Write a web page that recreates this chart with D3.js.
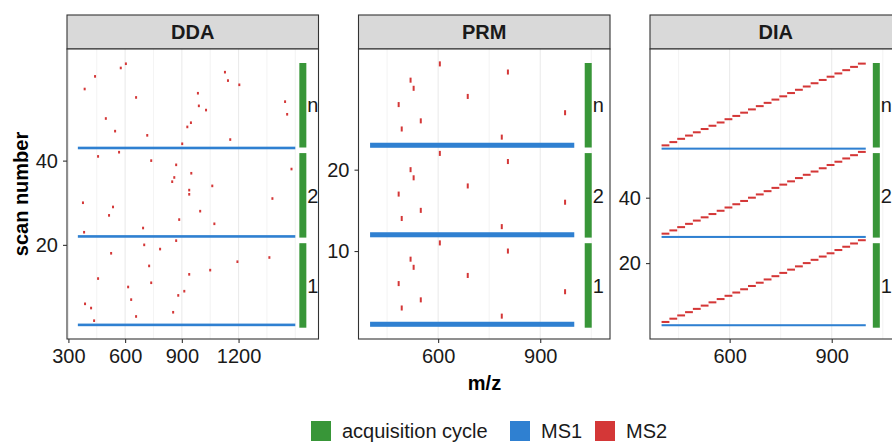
<!DOCTYPE html>
<html>
<head>
<meta charset="utf-8">
<script src="https://cdn.jsdelivr.net/npm/d3@7"></script>
<style>
  body { margin: 0; background: #fff; }
  svg { display: block; font-family: "Liberation Sans", Arial, sans-serif; }
</style>
</head>
<body>
<div id="chart"></div>
<script>
// ---- data ----
const methods = ['DDA', 'PRM', 'DIA'];
const cycleLabels = ['1', '2', 'n'];
const legendLabels = ['acquisition cycle', 'MS1', 'MS2'];

// DDA: one MS1 survey scan then 20 data-dependent MS2 scans per cycle
const ddaMs1Scans = [1, 22, 43];
const ddaMs1Range = [350, 1500];
const ddaCycle1Mz = [436, 658, 854, 420, 388, 632, 881, 913, 616, 738, 457, 939, 1050, 727, 1194, 1363, 526, 785, 701, 870];
const ddaCycle2Mz = [383, 695, 1072, 886, 515, 997, 536, 377, 1379, 939, 939, 1061, 849, 860, 950, 1480, 870, 738, 457, 568];
const ddaCycleNMz = [902, 1156, 717, 547, 929, 948, 498, 1457, 1028, 990, 1446, 658, 985, 386, 1204, 1144, 441, 1128, 577, 604];
const ddaIsolation = 2;

// PRM: the same 10 targets every cycle
const prmMs1Scans = [1, 12, 23];
const prmMs1Range = [400, 1000];
const prmTargetMz = [787, 493, 549, 973, 484, 687, 528, 519, 805, 605];
const prmIsolation = 2;

// DIA: 26 consecutive isolation windows
const diaMs1Scans = [1, 28, 55];
const diaMs1Range = [400, 1000];
const diaWindowStart = [400, 423, 446, 469, 492, 515, 538, 562, 585, 608, 631, 654, 677,
                        700, 723, 746, 769, 792, 815, 838, 862, 885, 908, 931, 954, 977];
const diaWindowWidth = 23;

// axes
const ddaXDomain = [292.6, 1622.8];
const prmXDomain = [366, 1105];
const diaXDomain = [366, 1105];
const ddaYDomain = [-2.35, 66.5];
const prmYDomain = [-0.81, 34.83];
const diaYDomain = [-3.21, 85.47];
const ddaXTicks = [300, 600, 900, 1200];
const ddaXMinor = [450, 750, 1050, 1350, 1500];
const otherXTicks = [600, 900];
const otherXMinor = [450, 750, 1050];
const ddaYTicks = [20, 40];
const prmYTicks = [10, 20];
const diaYTicks = [20, 40];
// m/z where the cycle bar and its label sit
const cycleBarMz = {DDA: 1540, PRM: 1041, DIA: 1031};

// ---- layout ----
const W = 892, H = 442;
const stripTop = 15, panelTop = 49, panelBottom = 339;
const panelH = panelBottom - panelTop;
const panelWidth = 251.5;
const panelLeft = {DDA: 67, PRM: 358.5, DIA: 650};
const colors = {cycle: '#389638', ms1: '#2f80d1', ms2: '#d43737'};
const scanThick = 0.62;   // fraction of a scan step covered by a mark

const svg = d3.select('#chart').append('svg')
  .attr('width', W)
  .attr('height', H);

function cycleRows(ms1Scans, perCycle) {
  return ms1Scans.flatMap((s, c) => perCycle(c).map((d, i) => Object.assign({scan: s + 1 + i}, d)));
}

const panels = [
  {
    name: 'DDA', xDomain: ddaXDomain, yDomain: ddaYDomain, xTicks: ddaXTicks, xMinor: ddaXMinor, yTicks: ddaYTicks,
    ms1: ddaMs1Scans.map((s) => ({scan: s, lo: ddaMs1Range[0], hi: ddaMs1Range[1]})),
    ms2: cycleRows(ddaMs1Scans, (c) => [ddaCycle1Mz, ddaCycle2Mz, ddaCycleNMz][c]
      .map((mz) => ({lo: mz - ddaIsolation / 2, hi: mz + ddaIsolation / 2})))
  },
  {
    name: 'PRM', xDomain: prmXDomain, yDomain: prmYDomain, xTicks: otherXTicks, xMinor: otherXMinor, yTicks: prmYTicks,
    ms1: prmMs1Scans.map((s) => ({scan: s, lo: prmMs1Range[0], hi: prmMs1Range[1]})),
    ms2: cycleRows(prmMs1Scans, () => prmTargetMz
      .map((mz) => ({lo: mz - prmIsolation / 2, hi: mz + prmIsolation / 2})))
  },
  {
    name: 'DIA', xDomain: diaXDomain, yDomain: diaYDomain, xTicks: otherXTicks, xMinor: otherXMinor, yTicks: diaYTicks,
    ms1: diaMs1Scans.map((s) => ({scan: s, lo: diaMs1Range[0], hi: diaMs1Range[1]})),
    ms2: cycleRows(diaMs1Scans, () => diaWindowStart
      .map((lo) => ({lo: lo, hi: lo + diaWindowWidth})))
  }
];

// the cycle bars sit at the same height in every panel
const barBand = d3.scaleBand()
  .domain(cycleLabels.slice().reverse())
  .range([63 - panelTop, 327.7 - panelTop])
  .paddingInner(0.062);

panels.forEach((p) => {
  const left = panelLeft[p.name];
  const x = d3.scaleLinear().domain(p.xDomain).range([0, panelWidth]);
  const y = d3.scaleLinear().domain(p.yDomain).range([panelH, 0]);

  // strip
  svg.append('rect')
    .attr('x', left).attr('y', stripTop)
    .attr('width', panelWidth).attr('height', panelTop - stripTop)
    .attr('fill', '#d9d9d9').attr('stroke', '#333').attr('stroke-width', 1.1);
  svg.append('text')
    .attr('x', left + panelWidth / 2).attr('y', (stripTop + panelTop) / 2)
    .attr('dy', '0.36em')
    .attr('text-anchor', 'middle')
    .style('font-size', '20px').style('font-weight', 'bold').style('fill', '#1a1a1a')
    .text(p.name);

  const g = svg.append('g').attr('transform', 'translate(' + left + ',' + panelTop + ')');
  g.append('rect').attr('width', panelWidth).attr('height', panelH).attr('fill', '#fff');

  // gridlines, vertical only
  g.selectAll('.minor').data(p.xMinor).enter().append('line')
    .attr('x1', (d) => x(d)).attr('x2', (d) => x(d)).attr('y1', 0).attr('y2', panelH)
    .attr('stroke', '#ebebeb').attr('stroke-width', 0.6);
  g.selectAll('.major').data(p.xTicks).enter().append('line')
    .attr('x1', (d) => x(d)).attr('x2', (d) => x(d)).attr('y1', 0).attr('y2', panelH)
    .attr('stroke', '#ebebeb').attr('stroke-width', 1.1);

  const step = y(0) - y(1);
  const thick = step * scanThick;

  // MS1
  g.selectAll('.ms1').data(p.ms1).enter().append('rect')
    .attr('x', (d) => x(d.lo))
    .attr('width', (d) => x(d.hi) - x(d.lo))
    .attr('y', (d) => y(d.scan) - thick / 2)
    .attr('height', thick)
    .attr('fill', colors.ms1);

  // MS2
  g.selectAll('.ms2').data(p.ms2).enter().append('rect')
    .attr('x', (d) => {
      const w = Math.max(2, x(d.hi) - x(d.lo));
      return (x(d.lo) + x(d.hi)) / 2 - w / 2;
    })
    .attr('width', (d) => Math.max(2, x(d.hi) - x(d.lo)))
    .attr('y', (d) => y(d.scan) - thick / 2)
    .attr('height', thick)
    .attr('fill', colors.ms2);

  // acquisition cycle bars + labels
  const barX = x(cycleBarMz[p.name]);
  g.selectAll('.cycle').data(cycleLabels).enter().append('rect')
    .attr('x', barX - 3.5).attr('width', 7)
    .attr('y', (d) => barBand(d)).attr('height', barBand.bandwidth())
    .attr('fill', colors.cycle);
  g.selectAll('.cycle-label').data(cycleLabels).enter().append('text')
    .attr('x', barX + 4.5)
    .attr('y', (d) => barBand(d) + barBand.bandwidth() / 2)
    .attr('dy', '0.36em')
    .style('font-size', '20px').style('fill', '#1a1a1a')
    .text((d) => d);

  g.append('rect').attr('width', panelWidth).attr('height', panelH)
    .attr('fill', 'none').attr('stroke', '#333').attr('stroke-width', 1.1);

  // axes
  const xAxis = g.append('g')
    .attr('transform', 'translate(0,' + panelH + ')')
    .call(d3.axisBottom(x).tickValues(p.xTicks).tickFormat(d3.format('d')).tickSize(4).tickPadding(6));
  const yAxis = g.append('g')
    .call(d3.axisLeft(y).tickValues(p.yTicks).tickFormat(d3.format('d')).tickSize(4).tickPadding(5));
  [xAxis, yAxis].forEach((a) => {
    a.select('.domain').remove();
    a.selectAll('line').attr('stroke', '#333').attr('stroke-width', 1.1);
    a.selectAll('text').style('font-size', '20px').style('fill', '#1a1a1a')
      .style('font-family', '"Liberation Sans", Arial, sans-serif');
  });
});

// axis titles
svg.append('text')
  .attr('x', 484.5).attr('y', 390)
  .attr('text-anchor', 'middle')
  .style('font-size', '20px').style('font-weight', 'bold')
  .text('m/z');
svg.append('text')
  .attr('transform', 'translate(27.5,' + (panelTop + panelH / 2) + ') rotate(-90)')
  .attr('text-anchor', 'middle')
  .style('font-size', '20px').style('font-weight', 'bold')
  .text('scan number');

// legend
const legendX = [311, 510, 595];
const legendColors = [colors.cycle, colors.ms1, colors.ms2];
const legend = svg.append('g').attr('transform', 'translate(0,421)');
legendLabels.forEach((lab, i) => {
  legend.append('rect')
    .attr('x', legendX[i]).attr('y', 0).attr('width', 20).attr('height', 20)
    .attr('fill', legendColors[i]);
  legend.append('text')
    .attr('x', legendX[i] + 31).attr('y', 10).attr('dy', '0.36em')
    .style('font-size', '20px').style('fill', '#1a1a1a')
    .text(lab);
});
</script>
</body>
</html>
